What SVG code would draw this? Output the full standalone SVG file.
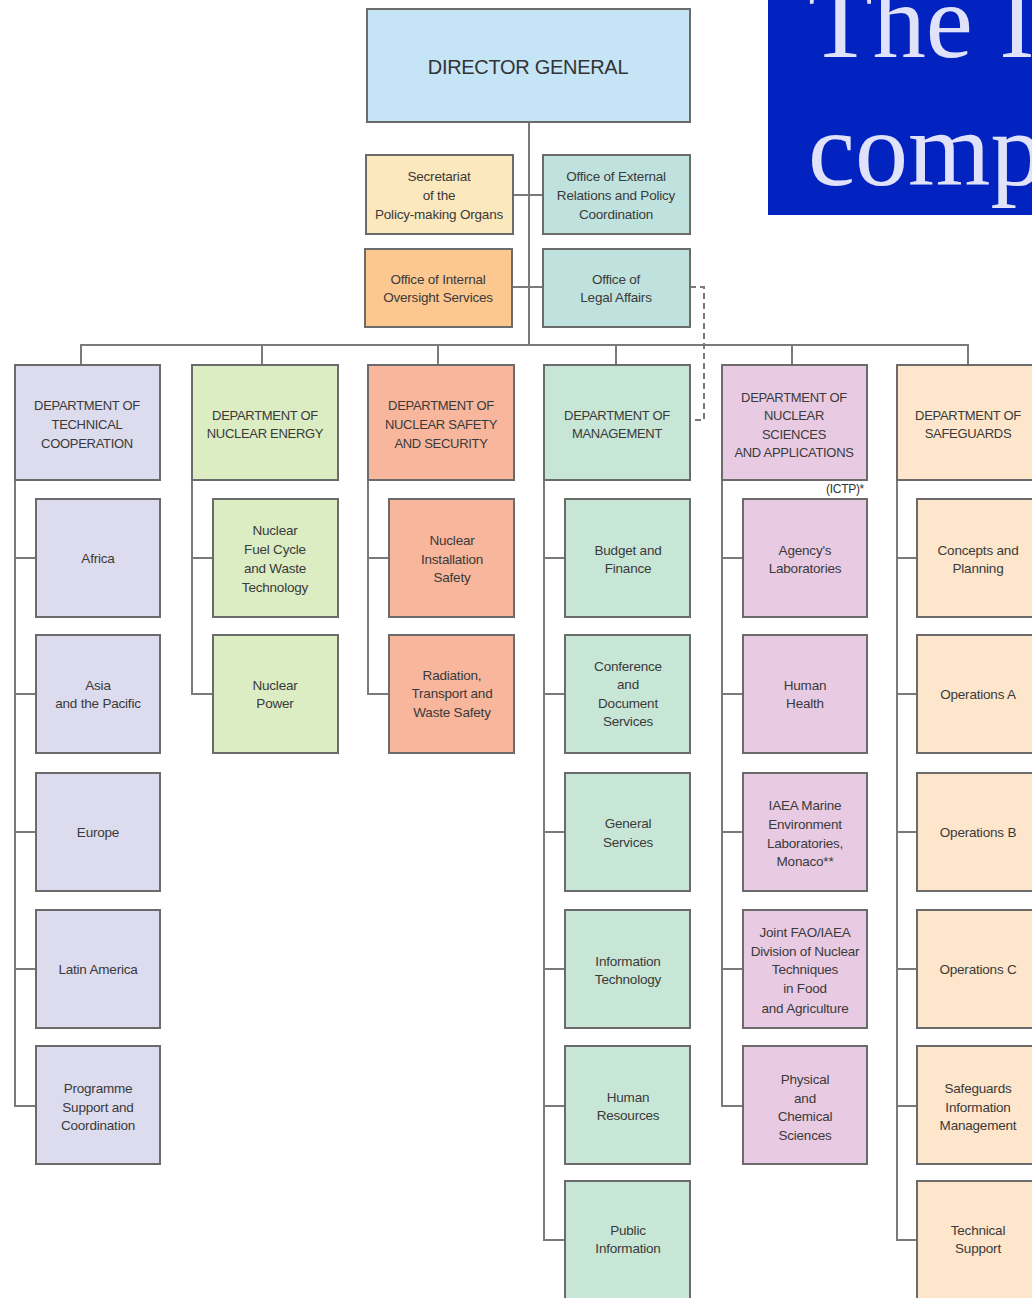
<svg xmlns="http://www.w3.org/2000/svg" width="1032" height="1298" viewBox="0 0 1032 1298">
<style>
.b{stroke:#6b6b6b;stroke-width:2}
.c{stroke:#7a7a7a;stroke-width:2;fill:none}
.t{font-family:"Liberation Sans",Arial,sans-serif;font-size:13.5px;fill:#3a3a3a;text-anchor:middle;letter-spacing:-0.2px}
.d{font-family:"Liberation Sans",Arial,sans-serif;font-size:13px;fill:#3a3a3a;text-anchor:middle;letter-spacing:-0.3px}
.tc{fill:#dddbee}.ne{fill:#dcecc3}.ns{fill:#f8b69c}.mg{fill:#c8e6d6}.sa{fill:#e9cae3}.sg{fill:#fde6cb}
.hd{font-family:"Liberation Serif","Times New Roman",serif;font-size:106px;fill:#e0e2fa}
</style>
<rect width="1032" height="1298" fill="#ffffff"/>

<g id="connectors">
<path class="c" d="M529,122 V345"/>
<path class="c" d="M513,195 H543"/>
<path class="c" d="M512,287 H543"/>
<path class="c" d="M81,365 V345 H968 V365"/>
<path class="c" d="M262,345 V365 M438,345 V365 M616,345 V365 M792,345 V365"/>
<path class="c" d="M690,287 H704 V420 H690" stroke-dasharray="6,4"/>
<path class="c" d="M15,480 V1106 H36 M15,558 H36 M15,694 H36 M15,832 H36 M15,969 H36"/>
<path class="c" d="M192,480 V694 H213 M192,558 H213"/>
<path class="c" d="M368,480 V694 H389 M368,558 H389"/>
<path class="c" d="M544,480 V1240 H565 M544,558 H565 M544,694 H565 M544,832 H565 M544,969 H565 M544,1106 H565"/>
<path class="c" d="M722,480 V1106 H743 M722,558 H743 M722,694 H743 M722,832 H743 M722,969 H743"/>
<path class="c" d="M897,480 V1240 H917 M897,558 H917 M897,694 H917 M897,832 H917 M897,969 H917 M897,1106 H917"/>
</g>

<g id="dg"><rect class="b" x="367" y="9" width="323" height="113" fill="#c5e5f7"/>
<text x="528" y="74" font-family="Liberation Sans,Arial,sans-serif" font-size="20" fill="#333" text-anchor="middle" letter-spacing="-0.3">DIRECTOR GENERAL</text></g>

<g id="secretariat"><rect class="b" x="366" y="155" width="147" height="79" fill="#fbe8bd"/>
<text class="t" x="439" y="181">Secretariat</text><text class="t" x="439" y="200">of the</text><text class="t" x="439" y="219">Policy-making Organs</text></g>
<g id="external"><rect class="b" x="543" y="155" width="147" height="79" fill="#bfe2de"/>
<text class="t" x="616" y="181">Office of External</text><text class="t" x="616" y="200">Relations and Policy</text><text class="t" x="616" y="219">Coordination</text></g>
<g id="oversight"><rect class="b" x="365" y="249" width="147" height="78" fill="#fcc88f"/>
<text class="t" x="438" y="284">Office of Internal</text><text class="t" x="438" y="302">Oversight Services</text></g>
<g id="legal"><rect class="b" x="543" y="249" width="147" height="78" fill="#bfe2de"/>
<text class="t" x="616" y="284">Office of</text><text class="t" x="616" y="302">Legal Affairs</text></g>

<g id="dept-tc"><rect class="b tc" x="15" y="365" width="145" height="115"/>
<text class="d" x="87" y="410">DEPARTMENT OF</text><text class="d" x="87" y="429">TECHNICAL</text><text class="d" x="87" y="448">COOPERATION</text></g>
<g id="dept-ne"><rect class="b ne" x="192" y="365" width="146" height="115"/>
<text class="d" x="265" y="420">DEPARTMENT OF</text><text class="d" x="265" y="438">NUCLEAR ENERGY</text></g>
<g id="dept-ns"><rect class="b ns" x="368" y="365" width="146" height="115"/>
<text class="d" x="441" y="410">DEPARTMENT OF</text><text class="d" x="441" y="429">NUCLEAR SAFETY</text><text class="d" x="441" y="448">AND SECURITY</text></g>
<g id="dept-mg"><rect class="b mg" x="544" y="365" width="146" height="115"/>
<text class="d" x="617" y="420">DEPARTMENT OF</text><text class="d" x="617" y="438">MANAGEMENT</text></g>
<g id="dept-sa"><rect class="b sa" x="722" y="365" width="145" height="115"/>
<text class="d" x="794" y="402">DEPARTMENT OF</text><text class="d" x="794" y="420">NUCLEAR</text><text class="d" x="794" y="439">SCIENCES</text><text class="d" x="794" y="457">AND APPLICATIONS</text></g>
<g id="dept-sg"><rect class="b sg" x="897" y="365" width="150" height="115"/>
<text class="d" x="968" y="420">DEPARTMENT OF</text><text class="d" x="968" y="438">SAFEGUARDS</text></g>
<g id="ictp"><text x="864" y="493" font-family="Liberation Sans,Arial,sans-serif" font-size="12" fill="#333" text-anchor="end" letter-spacing="-0.3">(ICTP)*</text></g>

<!-- Technical Cooperation -->
<g id="africa"><rect class="b tc" x="36" y="499" width="124" height="118"/><text class="t" x="98" y="563">Africa</text></g>
<g id="asia"><rect class="b tc" x="36" y="635" width="124" height="118"/><text class="t" x="98" y="690">Asia</text><text class="t" x="98" y="708">and the Pacific</text></g>
<g id="europe"><rect class="b tc" x="36" y="773" width="124" height="118"/><text class="t" x="98" y="837">Europe</text></g>
<g id="latin"><rect class="b tc" x="36" y="910" width="124" height="118"/><text class="t" x="98" y="974">Latin America</text></g>
<g id="programme"><rect class="b tc" x="36" y="1046" width="124" height="118"/><text class="t" x="98" y="1093">Programme</text><text class="t" x="98" y="1112">Support and</text><text class="t" x="98" y="1130">Coordination</text></g>

<!-- Nuclear Energy -->
<g id="fuel"><rect class="b ne" x="213" y="499" width="125" height="118"/><text class="t" x="275" y="535">Nuclear</text><text class="t" x="275" y="554">Fuel Cycle</text><text class="t" x="275" y="573">and Waste</text><text class="t" x="275" y="592">Technology</text></g>
<g id="power"><rect class="b ne" x="213" y="635" width="125" height="118"/><text class="t" x="275" y="690">Nuclear</text><text class="t" x="275" y="708">Power</text></g>

<!-- Nuclear Safety -->
<g id="installation"><rect class="b ns" x="389" y="499" width="125" height="118"/><text class="t" x="452" y="545">Nuclear</text><text class="t" x="452" y="564">Installation</text><text class="t" x="452" y="582">Safety</text></g>
<g id="radiation"><rect class="b ns" x="389" y="635" width="125" height="118"/><text class="t" x="452" y="680">Radiation,</text><text class="t" x="452" y="698">Transport and</text><text class="t" x="452" y="717">Waste Safety</text></g>

<!-- Management -->
<g id="budget"><rect class="b mg" x="565" y="499" width="125" height="118"/><text class="t" x="628" y="555">Budget and</text><text class="t" x="628" y="573">Finance</text></g>
<g id="conference"><rect class="b mg" x="565" y="635" width="125" height="118"/><text class="t" x="628" y="671">Conference</text><text class="t" x="628" y="689">and</text><text class="t" x="628" y="708">Document</text><text class="t" x="628" y="726">Services</text></g>
<g id="general"><rect class="b mg" x="565" y="773" width="125" height="118"/><text class="t" x="628" y="828">General</text><text class="t" x="628" y="847">Services</text></g>
<g id="it"><rect class="b mg" x="565" y="910" width="125" height="118"/><text class="t" x="628" y="966">Information</text><text class="t" x="628" y="984">Technology</text></g>
<g id="hr"><rect class="b mg" x="565" y="1046" width="125" height="118"/><text class="t" x="628" y="1102">Human</text><text class="t" x="628" y="1120">Resources</text></g>
<g id="public"><rect class="b mg" x="565" y="1181" width="125" height="130"/><text class="t" x="628" y="1235">Public</text><text class="t" x="628" y="1253">Information</text></g>

<!-- Nuclear Sciences -->
<g id="labs"><rect class="b sa" x="743" y="499" width="124" height="118"/><text class="t" x="805" y="555">Agency's</text><text class="t" x="805" y="573">Laboratories</text></g>
<g id="health"><rect class="b sa" x="743" y="635" width="124" height="118"/><text class="t" x="805" y="690">Human</text><text class="t" x="805" y="708">Health</text></g>
<g id="marine"><rect class="b sa" x="743" y="773" width="124" height="118"/><text class="t" x="805" y="810">IAEA Marine</text><text class="t" x="805" y="829">Environment</text><text class="t" x="805" y="848">Laboratories,</text><text class="t" x="805" y="866">Monaco**</text></g>
<g id="fao"><rect class="b sa" x="743" y="910" width="124" height="118"/><text class="t" x="805" y="937">Joint FAO/IAEA</text><text class="t" x="805" y="956">Division of Nuclear</text><text class="t" x="805" y="974">Techniques</text><text class="t" x="805" y="993">in Food</text><text class="t" x="805" y="1013">and Agriculture</text></g>
<g id="physical"><rect class="b sa" x="743" y="1046" width="124" height="118"/><text class="t" x="805" y="1084">Physical</text><text class="t" x="805" y="1103">and</text><text class="t" x="805" y="1121">Chemical</text><text class="t" x="805" y="1140">Sciences</text></g>

<!-- Safeguards -->
<g id="concepts"><rect class="b sg" x="917" y="499" width="126" height="118"/><text class="t" x="978" y="555">Concepts and</text><text class="t" x="978" y="573">Planning</text></g>
<g id="opa"><rect class="b sg" x="917" y="635" width="126" height="118"/><text class="t" x="978" y="699">Operations A</text></g>
<g id="opb"><rect class="b sg" x="917" y="773" width="126" height="118"/><text class="t" x="978" y="837">Operations B</text></g>
<g id="opc"><rect class="b sg" x="917" y="910" width="126" height="118"/><text class="t" x="978" y="974">Operations C</text></g>
<g id="sim"><rect class="b sg" x="917" y="1046" width="126" height="118"/><text class="t" x="978" y="1093">Safeguards</text><text class="t" x="978" y="1112">Information</text><text class="t" x="978" y="1130">Management</text></g>
<g id="techsupport"><rect class="b sg" x="917" y="1181" width="126" height="130"/><text class="t" x="978" y="1235">Technical</text><text class="t" x="978" y="1253">Support</text></g>

<g id="title"><rect x="768" y="0" width="264" height="215" fill="#0323c0"/>
<text class="hd" x="808" y="57">The I</text><text class="hd" x="808" y="185">comp</text></g>
</svg>
